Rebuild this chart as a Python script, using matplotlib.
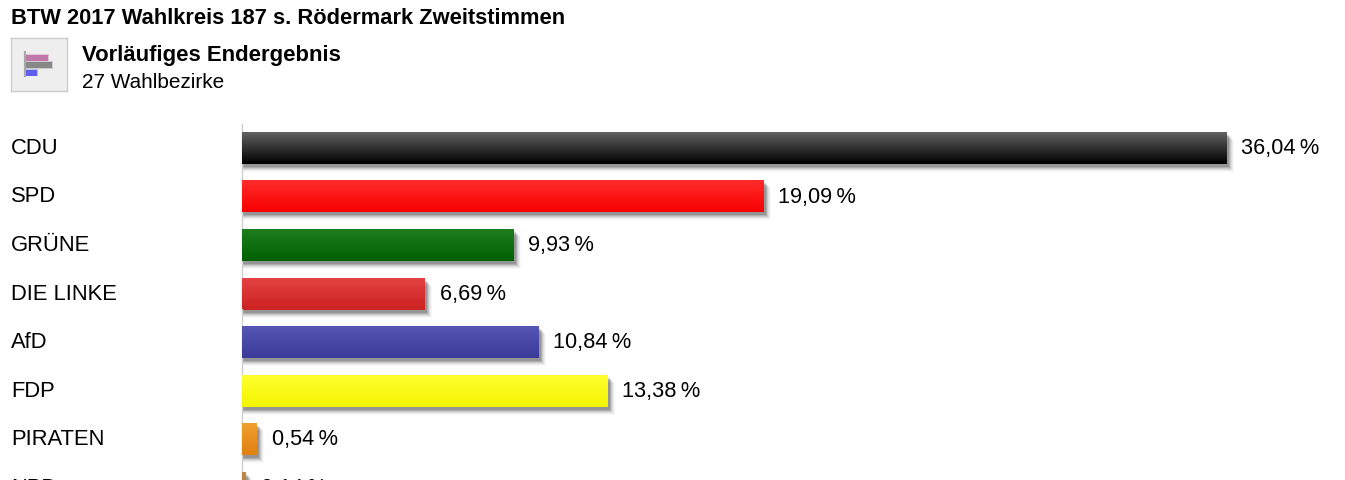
import numpy as np
import matplotlib
matplotlib.use("Agg")
import matplotlib.pyplot as plt
from matplotlib.colors import LinearSegmentedColormap
from matplotlib.transforms import ScaledTranslation

plt.rcParams['font.family'] = ['Liberation Sans', 'DejaVu Sans']

parties = ["CDU", "SPD", "GRÜNE", "DIE LINKE", "AfD", "FDP", "PIRATEN", "NPD"]
shares = [36.04, 19.09, 9.93, 6.69, 10.84, 13.38, 0.54, 0.14]
value_labels = ["36,04\u2009%", "19,09\u2009%", "9,93\u2009%", "6,69\u2009%", "10,84\u2009%", "13,38\u2009%", "0,54\u2009%", "0,14\u2009%"]
tops = ["#626262", "#ff2c2c", "#1f7f1f", "#e54444", "#5656b4", "#ffff2e", "#f0a030", "#c08848"]
bottoms = ["#000000", "#f80000", "#006000", "#cc2222", "#3a3a98", "#f4f400", "#e08010", "#a87030"]
title = "BTW 2017 Wahlkreis 187 s. Rödermark Zweitstimmen"
subtitle = "Vorläufiges Endergebnis"
note = "27 Wahlbezirke"
icon_values = [22.5, 27, 12]
icon_colors = ["#c070a8", "#808080", "#5555ee"]

W, H = 1345, 480
fig = plt.figure(figsize=(W / 100, H / 100), dpi=100, facecolor="white")


def px_axes(left, top, right, bottom, **kw):
    return fig.add_axes([left / W, 1 - bottom / H, (right - left) / W, (bottom - top) / H], **kw)


PITCH = 48.6
Y0 = 147.7
SCALE = 27.31
AX_BOTTOM = H + 40
ax = px_axes(242, 124, W, AX_BOTTOM)
ax.patch.set_alpha(0)
for s in ["top", "right", "bottom"]:
    ax.spines[s].set_visible(False)
ax.spines["left"].set_color("#cfcfcf")
ax.spines["left"].set_linewidth(1.0)
ax.set_xticks([])
y = np.arange(len(parties))
ax.set_yticks(y, parties)
ax.tick_params(axis="y", length=0, pad=231 * 0.72, labelsize=15.8)
up = ScaledTranslation(0, 0.02, fig.dpi_scale_trans)
for lab in ax.get_yticklabels():
    lab.set_ha("left")
    lab.set_transform(lab.get_transform() + up)

BAR_H = 32 / PITCH
# soft shadow, offset to the lower right
for off, alpha in [(8.5, 0.03), (7.5, 0.05), (6.5, 0.08), (5.5, 0.12), (4.5, 0.16), (3.5, 0.20)]:
    ax.barh(y + (off - 0.5) / PITCH, np.array(shares) + (off - 1) / SCALE, height=BAR_H, color="#303030",
            alpha=alpha, linewidth=0, zorder=1)

bars = ax.barh(y, shares, height=BAR_H, color=bottoms, linewidth=0, zorder=2)
for i, (b, t, bt) in enumerate(zip(bars, tops, bottoms)):
    cmap = LinearSegmentedColormap.from_list("g", [t, bt])
    im = ax.imshow(np.linspace(0, 1, 64).reshape(-1, 1), cmap=cmap, aspect="auto", zorder=3,
                   extent=(0, shares[i], i + BAR_H / 2, i - BAR_H / 2), interpolation="bilinear")
    im.set_clip_path(b)
ax.set_xlim(0, (W - 242) / SCALE)
ax.set_ylim((AX_BOTTOM - Y0) / PITCH, (124 - Y0) / PITCH)

for i, (v, s) in enumerate(zip(shares, value_labels)):
    ax.annotate(s, (v, i), xytext=(15 * 0.72, -0.7 * 0.72), textcoords="offset points", va="center",
                ha="left", fontsize=15.7, color="black", annotation_clip=False)

fig.text(11 / W, 1 - 18.5 / H, title, fontsize=15.78, fontweight="bold", va="center", ha="left")
fig.text(82 / W, 1 - 55.5 / H, subtitle, fontsize=15.9, fontweight="bold", va="center", ha="left")
fig.text(82 / W, 1 - 82.5 / H, note, fontsize=14.95, va="center", ha="left")

icon = px_axes(11, 38, 67, 91)
icon.set_facecolor("#eeeeee")
for s in icon.spines.values():
    s.set_color("#cccccc")
    s.set_linewidth(1.0)
icon.set_xticks([])
icon.set_yticks([])
icon.set_xlim(-14, 42)
icon.set_ylim((91 - 57.5) / 7.5, (38 - 57.5) / 7.5)
iy = np.arange(len(icon_values))
icon.barh(iy, np.array(icon_values) + 1, height=1.0, color=icon_colors, alpha=0.3, linewidth=0, zorder=2)
icon.barh(iy, icon_values, height=0.8, color=icon_colors, alpha=0.9, linewidth=0, zorder=2)
icon.axvline(-0.5, ymin=0.28, ymax=0.74, color="#a8a8a8", linewidth=1.5, zorder=3)

fig.savefig("out.png", dpi=100, facecolor="white")
